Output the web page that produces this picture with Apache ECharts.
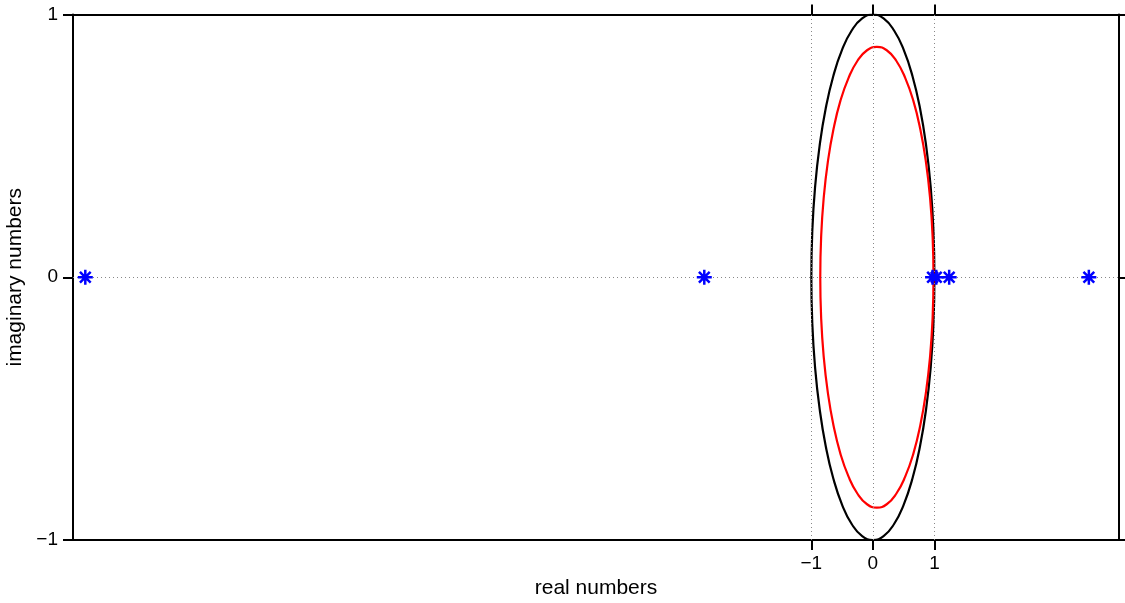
<!DOCTYPE html>
<html>
<head>
<meta charset="utf-8">
<script src="https://cdn.jsdelivr.net/npm/echarts@6/dist/echarts.min.js"></script>
<style>
html,body{margin:0;padding:0;background:#fff;}
#chart{width:1125px;height:603px;}
</style>
</head>
<body>
<div id="chart"></div>
<script>
// Blue asterisk points (real, imaginary)
const pointsRe = [-12.8, -2.74, 0.97, 1.03, 1.24, 3.51];
const pointsIm = [0, 0, 0, 0, 0, 0];

// Black curve (unit circle)
const blackX = [1, 0.985, 0.94, 0.866, 0.766, 0.643, 0.5, 0.342, 0.174, 0, -0.174, -0.342, -0.5, -0.643, -0.766, -0.866, -0.94, -0.985, -1,
  -0.985, -0.94, -0.866, -0.766, -0.643, -0.5, -0.342, -0.174, 0, 0.174, 0.342, 0.5, 0.643, 0.766, 0.866, 0.94, 0.985, 1];
const blackY = [0, 0.174, 0.342, 0.5, 0.643, 0.766, 0.866, 0.94, 0.985, 1, 0.985, 0.94, 0.866, 0.766, 0.643, 0.5, 0.342, 0.174, 0,
  -0.174, -0.342, -0.5, -0.643, -0.766, -0.866, -0.94, -0.985, -1, -0.985, -0.94, -0.866, -0.766, -0.643, -0.5, -0.342, -0.174, 0];

// Red curve
const redX = [0.985, 0.971, 0.93, 0.862, 0.77, 0.657, 0.525, 0.38, 0.225, 0.065, -0.095, -0.25, -0.395, -0.527, -0.64, -0.732, -0.8, -0.841, -0.855,
  -0.841, -0.8, -0.732, -0.64, -0.527, -0.395, -0.25, -0.095, 0.065, 0.225, 0.38, 0.525, 0.657, 0.77, 0.862, 0.93, 0.971, 0.985];
const redY = [0, 0.153, 0.3, 0.439, 0.564, 0.672, 0.759, 0.824, 0.864, 0.877, 0.864, 0.824, 0.759, 0.672, 0.564, 0.439, 0.3, 0.153, 0,
  -0.153, -0.3, -0.439, -0.564, -0.672, -0.759, -0.824, -0.864, -0.877, -0.864, -0.824, -0.759, -0.672, -0.564, -0.439, -0.3, -0.153, 0];

// Tick values
const xTicks = [-1, 0, 1];
const yTicks = [-1, 0, 1];
const xRange = [-13, 4];
const yRange = [-1, 1];

const zip = (a, b) => a.map((v, i) => [v, b[i]]);
const fmt = v => (v < 0 ? '\u2212' + (-v) : String(v));
const FONT = 'Liberation Sans, Arial, Helvetica, sans-serif';

const chart = echarts.init(document.getElementById('chart'));
const axisLineStyle = { color: '#000', width: 2 };
const tickStyle = { color: '#000', width: 2 };

chart.setOption({
  animation: false,
  backgroundColor: '#fff',
  grid: { left: 73, right: 6, top: 14.5, bottom: 63, containLabel: false, outerBoundsMode: 'none' },
  xAxis: [
    {
      type: 'value', position: 'bottom', min: xRange[0], max: xRange[1],
      name: 'real numbers', nameLocation: 'middle', nameGap: 38,
      nameTextStyle: { fontFamily: FONT, fontSize: 21, color: '#000' },
      axisLine: { show: true, onZero: false, lineStyle: axisLineStyle },
      axisTick: { show: true, length: 10, customValues: xTicks, lineStyle: tickStyle },
      axisLabel: { show: true, customValues: xTicks, formatter: fmt, margin: 14,
        fontFamily: FONT, fontSize: 19, color: '#000' },
      splitLine: { show: false }
    },
    {
      type: 'value', position: 'top', min: xRange[0], max: xRange[1],
      axisLine: { show: true, onZero: false, lineStyle: axisLineStyle },
      axisTick: { show: true, length: 10, customValues: xTicks, lineStyle: tickStyle },
      axisLabel: { show: false },
      splitLine: { show: false }
    }
  ],
  yAxis: [
    {
      type: 'value', position: 'left', min: yRange[0], max: yRange[1], interval: 1,
      name: 'imaginary numbers', nameLocation: 'middle', nameGap: 37, nameRotate: 90,
      nameTextStyle: { fontFamily: FONT, fontSize: 21, color: '#000' },
      axisLine: { show: true, onZero: false, lineStyle: axisLineStyle },
      axisTick: { show: true, length: 10, customValues: yTicks, lineStyle: tickStyle },
      axisLabel: { show: true, customValues: yTicks, formatter: fmt, margin: 15,
        fontFamily: FONT, fontSize: 19, color: '#000' },
      splitLine: { show: false }
    },
    {
      type: 'value', position: 'right', min: yRange[0], max: yRange[1], interval: 1,
      axisLine: { show: true, onZero: false, lineStyle: axisLineStyle },
      axisTick: { show: true, length: 10, customValues: yTicks, lineStyle: tickStyle },
      axisLabel: { show: false },
      splitLine: { show: false }
    }
  ],
  series: [
    {
      type: 'line', data: [], silent: true,
      markLine: {
        silent: true, symbol: 'none', label: { show: false },
        lineStyle: { color: '#888', type: [1, 3], width: 1 },
        data: xTicks.map(v => ({ xAxis: v })).concat([{ yAxis: 0 }])
      }
    },
    {
      type: 'line', data: zip(blackX, blackY), smooth: true, showSymbol: false, symbol: 'none',
      lineStyle: { color: '#000', width: 2.2 }, z: 3
    },
    {
      type: 'line', data: zip(redX, redY), smooth: true, showSymbol: false, symbol: 'none',
      lineStyle: { color: '#ff0000', width: 2.2 }, z: 3
    },
    {
      type: 'scatter', data: zip(pointsRe, pointsIm),
      symbol: 'path://M0,-6L0,6M-6,0L6,0M-4.3,-4.3L4.3,4.3M-4.3,4.3L4.3,-4.3',
      symbolSize: 15,
      itemStyle: { color: 'none', borderColor: '#0000ff', borderWidth: 2.5, opacity: 1 },
      z: 5
    }
  ]
});
</script>
</body>
</html>
